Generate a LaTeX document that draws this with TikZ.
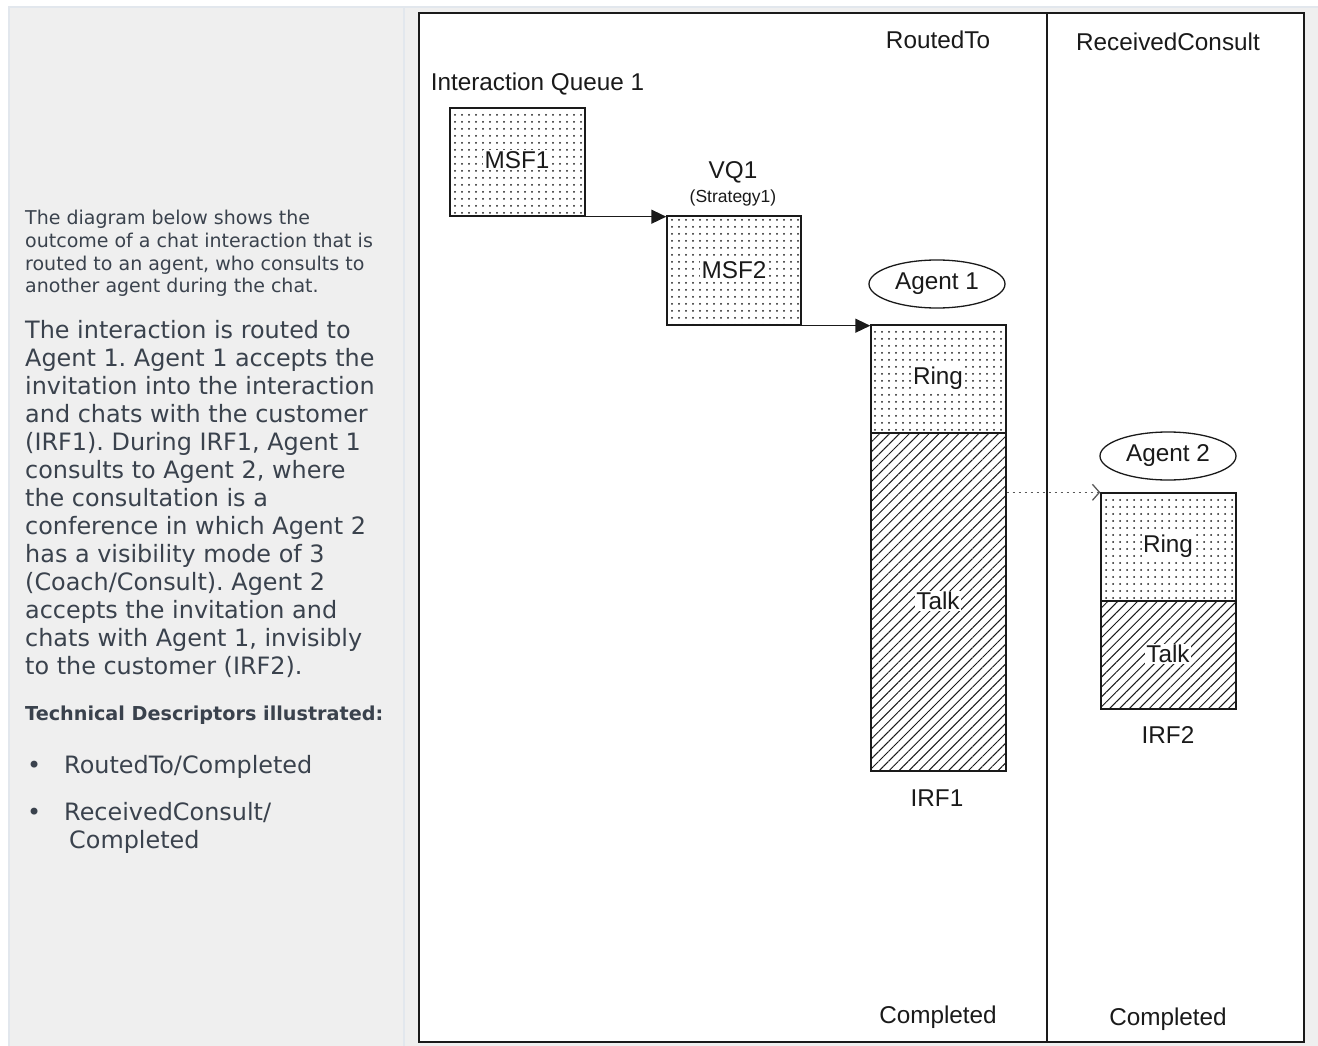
\documentclass[tikz,border=0pt]{standalone}
\usepackage{fontspec}
\setmainfont{DejaVu Sans}
\newfontfamily\arialf{Liberation Sans}
\usetikzlibrary{shapes.geometric,arrows.meta,patterns.meta}
\definecolor{pagegray}{HTML}{EFEFEF}
\definecolor{edgeblue}{HTML}{E2E7ED}
\definecolor{bodytext}{HTML}{3A424D}
\definecolor{inkc}{HTML}{1A1A1A}
\frenchspacing
\tikzset{
  lefttxt/.style={anchor=base west,inner sep=0pt,text=bodytext},
  smalltxt/.style={lefttxt,font=\fontsize{19}{22}\selectfont},
  bigtxt/.style={lefttxt,font=\fontsize{23.9}{28}\selectfont},
  dlabel/.style={font=\arialf\fontsize{24.3}{28}\selectfont,text=inkc,inner sep=0pt},
  plabel/.style={dlabel,fill=white,inner sep=1.5pt},
  dotbox/.style={draw=inkc,line width=1.4pt,pattern={Dots[radius=1pt,distance=7pt]},pattern color=inkc,inner sep=0pt},
  hatchbox/.style={draw=inkc,line width=1.4pt,pattern={Lines[angle=45,distance=7pt,line width=1pt]},pattern color=inkc,inner sep=0pt},
  agentoval/.style={ellipse,draw=inkc,line width=1.3pt,fill=white,minimum width=136pt,minimum height=48pt,inner sep=0pt,font=\arialf\fontsize{24.3}{28}\selectfont,text=inkc},
  flowarrow/.style={draw=inkc,line width=1.4pt,-{Triangle[length=15pt,width=14pt]}},
  consultarrow/.style={draw=gray!70!black,line width=1.4pt,dash pattern=on 2pt off 4pt,-{Straight Barb[length=7pt,width=16pt,line width=1.3pt]}}
}
\begin{document}
\begin{tikzpicture}[x=1pt,y=-1pt]
\useasboundingbox (0,0) rectangle (1318,1046);
% page background
\fill[white] (0,0) rectangle (1318,1046);
\fill[edgeblue] (8,6) rectangle (1318,1046);
\fill[pagegray] (10,8) rectangle (403,1046);
\fill[pagegray] (405,8) rectangle (1318,1046);
% left text
\node[smalltxt] (p1a) at (25,225) {The diagram below shows the};
\node[smalltxt] (p1b) at (25,247.5) {outcome of a chat interaction that is};
\node[smalltxt] (p1c) at (25,270) {routed to an agent, who consults to};
\node[smalltxt] (p1d) at (25,292.5) {another agent during the chat.};
\foreach \t [count=\i] in {{The interaction is routed to},{Agent 1. Agent 1 accepts the},{invitation into the interaction},{and chats with the customer},{(IRF1). During IRF1, Agent 1},{consults to Agent 2, where},{the consultation is a},{conference in which Agent 2},{has a visibility mode of 3},{(Coach/Consult). Agent 2},{accepts the invitation and},{chats with Agent 1, invisibly},{to the customer (IRF2).}}{
  \node[bigtxt] (p2-\i) at (25,{338+28*(\i-1)}) {\t};
}
\node[smalltxt,font=\bfseries\fontsize{19.2}{22}\selectfont] (tech) at (25,720) {Technical Descriptors illustrated:};
\node[bigtxt] (b1) at (27,773) {•};
\node[bigtxt] (b1t) at (64,773) {RoutedTo/Completed};
\node[bigtxt] (b2) at (27,820) {•};
\node[bigtxt] (b2t) at (64,820) {ReceivedConsult/};
\node[bigtxt] (b2u) at (69,848) {Completed};
% diagram frame
\draw[fill=white,draw=inkc,line width=2pt] (419,13) rectangle (1304,1042);
\draw[inkc,line width=2pt] (1047,13) -- (1047,1042);
% column titles
\node[dlabel] (routed) at (938,40) {RoutedTo};
\node[dlabel] (received) at (1168,42) {ReceivedConsult};
\node[dlabel] (compl1) at (938,1017) {Completed};
\node[dlabel] (compl2) at (1168,1019) {Completed};
% queue
\node[dlabel] (iq) at (537.5,84) {Interaction Queue 1};
\node[dotbox,minimum width=135pt,minimum height=108pt] (msf1) at (517.5,162) {};
\node[plabel] (msf1l) at (517,160) {MSF1};
% VQ
\node[dlabel] (vq) at (733,172) {VQ1};
\node[dlabel,font=\arialf\fontsize{17.5}{20}\selectfont] (strat) at (733,198) {(Strategy1)};
\node[dotbox,minimum width=134pt,minimum height=109pt] (msf2) at (734,270.5) {};
\node[plabel] (msf2l) at (734,270) {MSF2};
% agent 1
\node[agentoval] (ag1) at (937,284) {Agent 1};
\node[dotbox,minimum width=135pt,minimum height=108pt] (ring1) at (938.5,379) {};
\node[hatchbox,minimum width=135pt,minimum height=338pt] (talk1) at (938.5,602) {};
\node[plabel] (ring1l) at (938,378) {Ring};
\node[plabel] (talk1l) at (938,601) {Talk};
\node[dlabel] (irf1) at (937,798) {IRF1};
% agent 2
\node[agentoval] (ag2) at (1168,456) {Agent 2};
\node[dotbox,minimum width=135pt,minimum height=108pt] (ring2) at (1168.5,547) {};
\node[hatchbox,minimum width=135pt,minimum height=108pt] (talk2) at (1168.5,655) {};
\node[plabel] (ring2l) at (1168,546) {Ring};
\node[plabel] (talk2l) at (1168,654) {Talk};
\node[dlabel] (irf2) at (1168,735) {IRF2};
% connectors
\draw[flowarrow] (msf1.south east) -- (msf1.south east -| msf2.west);
\draw[flowarrow] (msf2.south east) -- (msf2.south east -| ring1.west);
\draw[consultarrow] (ring2.north west -| talk1.east) -- (ring2.north west);
\end{tikzpicture}
\end{document}
